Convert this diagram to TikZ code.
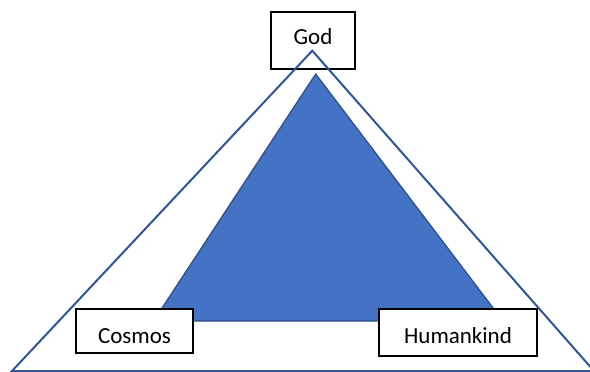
\documentclass[tikz,border=0pt]{standalone}
\usepackage{fontspec}
\setmainfont{Carlito}
\definecolor{lineblue}{HTML}{2F5597}
\definecolor{fillblue}{HTML}{4472C4}
\definecolor{edgeblue}{HTML}{2F528F}
\tikzset{
  labelbox/.style={draw=black, line width=1.3pt, fill=white, font=\fontsize{23}{26}\selectfont, inner sep=0pt}
}

\begin{document}
\begin{tikzpicture}[x=1pt, y=-1pt]
    \useasboundingbox (0,0) rectangle (590,372);

    % top box
    \node[labelbox, minimum width=84pt, minimum height=57pt, text height=16pt, text depth=7pt] (god) at (313,40.5) {God};

    % outer triangle
    \coordinate (top) at (312.3,50.7);
    \coordinate (left) at (12,371);
    \coordinate (right) at (594,371);
    \draw[lineblue, line width=2pt, line join=miter] (top) -- (left) -- (right) -- cycle;

    % inner triangle
    \fill[fillblue, draw=edgeblue, line width=1.3pt] (315.7,74) -- (153.5,321) -- (503,321) -- cycle;

    % bottom boxes
    \node[labelbox, minimum width=117pt, minimum height=44pt, text height=24.6pt, text depth=0pt] (cosmos) at (134.5,331) {Cosmos};
    \node[labelbox, minimum width=158pt, minimum height=47pt, text height=21.6pt, text depth=0pt] (human) at (458,332.5) {Humankind};
\end{tikzpicture}
\end{document}
